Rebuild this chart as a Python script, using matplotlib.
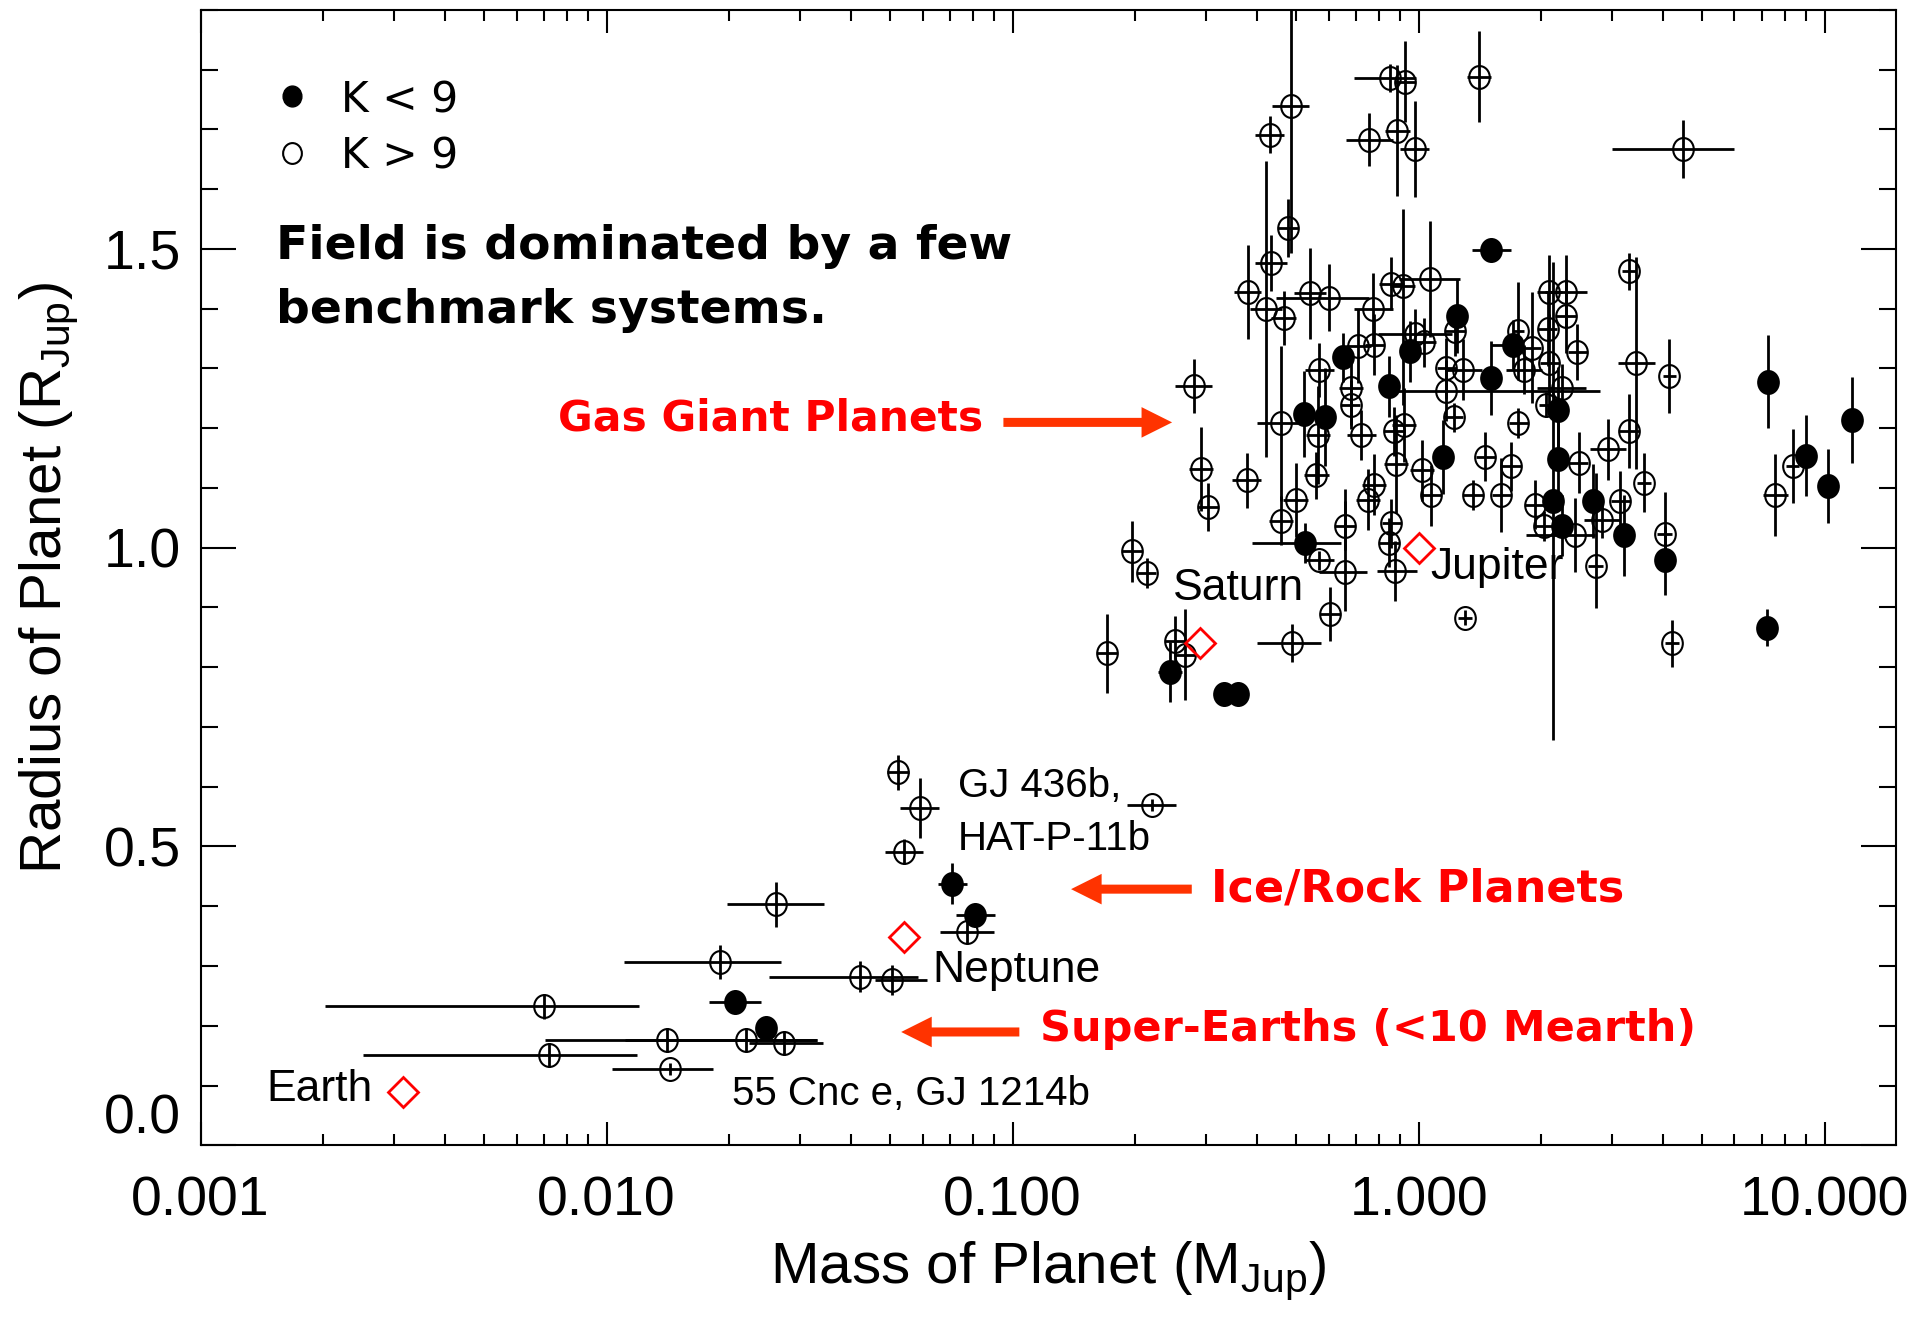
import numpy as np
import matplotlib
matplotlib.use('Agg')
import matplotlib.pyplot as plt
from matplotlib.path import Path
from matplotlib.transforms import Affine2D
from matplotlib.ticker import FixedLocator, LogLocator, MultipleLocator, NullFormatter

plt.rcParams['font.family'] = ['Liberation Sans', 'DejaVu Sans']
plt.rcParams['mathtext.fontset'] = 'custom'
plt.rcParams['mathtext.rm'] = 'Liberation Sans'
plt.rcParams['mathtext.it'] = 'Liberation Sans:italic'

# ---------------- data ----------------
# K < 9 host stars (filled symbols): mass [M_Jup], radius [R_Jup]
bright_mass = [1.51, 1.24, 1.71, 0.653, 0.953, 1.51, 0.845, 7.26, 0.523, 0.589,
               0.526, 1.15, 0.244, 0.332, 0.359, 2.20, 2.21, 2.14, 2.26, 2.69,
               3.21, 4.04, 7.21, 11.7, 9.02, 10.2,
               0.0711, 0.0809, 0.0207, 0.0247]
bright_radius = [1.498, 1.387, 1.340, 1.319, 1.329, 1.284, 1.270, 1.278, 1.224, 1.218,
                 1.008, 1.152, 0.792, 0.755, 0.755, 1.230, 1.148, 1.078, 1.037, 1.078,
                 1.021, 0.979, 0.866, 1.214, 1.154, 1.103,
                 0.438, 0.386, 0.240, 0.197]
# mass errors in dex (lower, upper); radius errors in R_Jup (lower, upper)
bright_mlo = [0.048, 0.024, 0.055, 0.024, 0.024, 0.015, 0.024, 0.015, 0.024, 0.024,
              0.131, 0.024, 0.030, 0.015, 0.015, 0.024, 0.024, 0.024, 0.024, 0.024,
              0.015, 0.015, 0.015, 0.015, 0.015, 0.015,
              0.035, 0.048, 0.064, 0.020]
bright_mhi = [0.048, 0.024, 0.015, 0.024, 0.024, 0.015, 0.024, 0.015, 0.024, 0.024,
              0.087, 0.024, 0.030, 0.015, 0.020, 0.024, 0.024, 0.024, 0.024, 0.024,
              0.015, 0.015, 0.015, 0.015, 0.015, 0.015,
              0.035, 0.048, 0.064, 0.020]
bright_rlo = [0.010, 0.062, 0.041, 0.041, 0.051, 0.062, 0.051, 0.078, 0.072, 0.082,
              0.033, 0.062, 0.051, 0.006, 0.006, 0.072, 0.072, 0.400, 0.051, 0.062,
              0.068, 0.058, 0.031, 0.072, 0.068, 0.062,
              0.034, 0.008, 0.008, 0.008]
bright_rhi = bright_rlo

# K > 9 host stars (open symbols)
faint_mass = [0.484, 0.430, 0.851, 0.927, 0.757, 0.887, 0.979, 1.41, 4.49, 0.477,
              0.433, 0.379, 0.421, 0.465, 0.541, 0.601, 0.773, 0.857, 0.913, 1.064,
              3.30, 3.44, 2.10, 2.31, 2.31, 1.23, 2.08, 1.76, 2.46, 1.90,
              0.711, 0.569, 1.29, 1.82, 2.10, 0.681, 0.279, 2.25, 4.15, 1.17,
              0.458, 0.291, 0.303, 0.377, 0.458, 0.498, 0.560, 0.569, 0.658, 0.658,
              0.875, 0.845, 0.857, 0.881, 1.072, 0.778, 0.751, 0.920, 0.722, 0.565,
              1.02, 0.197, 0.214, 0.171, 0.251, 0.266, 0.488, 0.605, 1.30, 1.46,
              1.69, 1.36, 1.60, 1.76, 2.06, 1.22, 1.93, 2.04, 2.43, 2.48,
              2.83, 2.73, 2.93, 3.14, 3.30, 3.59, 4.04, 4.21, 7.57, 8.34,
              0.778, 1.03, 1.17, 0.98, 0.68, 0.869,
              0.0522, 0.0590, 0.0539, 0.0771, 0.0261, 0.0190, 0.0420, 0.0505, 0.00702, 0.01406,
              0.0220, 0.0274, 0.00723, 0.01435, 0.220]
faint_radius = [1.739, 1.691, 1.786, 1.780, 1.683, 1.698, 1.667, 1.788, 1.667, 1.535,
                1.477, 1.428, 1.399, 1.385, 1.426, 1.418, 1.399, 1.442, 1.438, 1.449,
                1.463, 1.309, 1.428, 1.428, 1.387, 1.362, 1.366, 1.362, 1.327, 1.335,
                1.337, 1.298, 1.298, 1.298, 1.309, 1.267, 1.270, 1.267, 1.288, 1.263,
                1.208, 1.132, 1.068, 1.113, 1.045, 1.080, 1.121, 0.979, 0.959, 1.037,
                0.961, 1.008, 1.041, 1.140, 1.088, 1.105, 1.080, 1.206, 1.189, 1.189,
                1.130, 0.994, 0.957, 0.823, 0.844, 0.821, 0.840, 0.889, 0.883, 1.152,
                1.136, 1.088, 1.088, 1.208, 1.239, 1.218, 1.072, 1.037, 1.021, 1.142,
                1.047, 0.969, 1.165, 1.078, 1.195, 1.109, 1.023, 0.840, 1.088, 1.136,
                1.340, 1.344, 1.300, 1.358, 1.239, 1.195,
                0.624, 0.565, 0.491, 0.357, 0.403, 0.307, 0.282, 0.276, 0.233, 0.176,
                0.177, 0.171, 0.151, 0.127, 0.570]
faint_mlo = [0.045, 0.036, 0.088, 0.024, 0.058, 0.030, 0.036, 0.030, 0.175, 0.024,
             0.039, 0.033, 0.039, 0.030, 0.039, 0.131, 0.048, 0.030, 0.030, 0.076,
             0.018, 0.045, 0.030, 0.052, 0.024, 0.024, 0.024, 0.015, 0.024, 0.024,
             0.030, 0.036, 0.045, 0.045, 0.024, 0.030, 0.045, 0.061, 0.015, 0.124,
             0.059, 0.030, 0.024, 0.036, 0.030, 0.030, 0.030, 0.036, 0.064, 0.024,
             0.045, 0.024, 0.024, 0.030, 0.024, 0.030, 0.030, 0.030, 0.036, 0.030,
             0.030, 0.024, 0.024, 0.024, 0.024, 0.024, 0.086, 0.024, 0.018, 0.024,
             0.024, 0.024, 0.024, 0.024, 0.018, 0.024, 0.024, 0.024, 0.121, 0.024,
             0.045, 0.018, 0.045, 0.024, 0.024, 0.018, 0.018, 0.018, 0.030, 0.015,
             0.024, 0.030, 0.024, 0.091, 0.024, 0.024,
             0.028, 0.049, 0.047, 0.066, 0.119, 0.236, 0.223, 0.042, 0.541, 0.300,
             0.297, 0.088, 0.458, 0.143, 0.060]
faint_mhi = [0.045, 0.036, 0.064, 0.024, 0.058, 0.030, 0.036, 0.030, 0.125, 0.024,
             0.039, 0.033, 0.039, 0.030, 0.039, 0.098, 0.048, 0.030, 0.030, 0.076,
             0.018, 0.045, 0.030, 0.052, 0.024, 0.024, 0.024, 0.015, 0.024, 0.024,
             0.030, 0.036, 0.045, 0.045, 0.024, 0.030, 0.045, 0.061, 0.015, 0.379,
             0.043, 0.030, 0.024, 0.036, 0.030, 0.030, 0.030, 0.036, 0.055, 0.024,
             0.055, 0.024, 0.024, 0.030, 0.024, 0.030, 0.030, 0.030, 0.036, 0.030,
             0.030, 0.024, 0.024, 0.024, 0.024, 0.024, 0.072, 0.024, 0.018, 0.024,
             0.024, 0.024, 0.024, 0.024, 0.018, 0.024, 0.024, 0.024, 0.050, 0.024,
             0.045, 0.018, 0.045, 0.024, 0.024, 0.018, 0.018, 0.018, 0.030, 0.015,
             0.024, 0.030, 0.024, 0.091, 0.024, 0.024,
             0.028, 0.049, 0.047, 0.066, 0.119, 0.152, 0.144, 0.085, 0.233, 0.370,
             0.177, 0.096, 0.216, 0.106, 0.060]
faint_rlo = [0.245, 0.031, 0.024, 0.068, 0.045, 0.109, 0.080, 0.076, 0.049, 0.049,
             0.047, 0.078, 0.248, 0.045, 0.076, 0.056, 0.060, 0.045, 0.200, 0.097,
             0.031, 0.178, 0.062, 0.062, 0.062, 0.041, 0.062, 0.082, 0.047, 0.093,
             0.062, 0.045, 0.051, 0.041, 0.082, 0.062, 0.045, 0.041, 0.062, 0.051,
             0.130, 0.070, 0.040, 0.046, 0.041, 0.062, 0.039, 0.016, 0.065, 0.041,
             0.050, 0.041, 0.041, 0.082, 0.051, 0.051, 0.051, 0.062, 0.042, 0.082,
             0.051, 0.051, 0.025, 0.066, 0.041, 0.076, 0.032, 0.045, 0.012, 0.041,
             0.041, 0.025, 0.062, 0.025, 0.021, 0.025, 0.041, 0.025, 0.062, 0.051,
             0.031, 0.070, 0.051, 0.051, 0.062, 0.049, 0.050, 0.039, 0.068, 0.062,
             0.051, 0.041, 0.051, 0.041, 0.041, 0.041,
             0.029, 0.050, 0.021, 0.018, 0.038, 0.028, 0.026, 0.025, 0.021, 0.020,
             0.020, 0.020, 0.020, 0.010, 0.010]
faint_rhi = [0.200, 0.031, 0.024, 0.068, 0.045, 0.109, 0.080, 0.076, 0.049, 0.049,
             0.047, 0.078, 0.248, 0.045, 0.076, 0.056, 0.060, 0.045, 0.128, 0.097,
             0.031, 0.178, 0.062, 0.062, 0.062, 0.041, 0.062, 0.082, 0.047, 0.093,
             0.062, 0.045, 0.051, 0.041, 0.082, 0.062, 0.045, 0.041, 0.062, 0.051,
             0.130, 0.070, 0.040, 0.046, 0.041, 0.062, 0.039, 0.016, 0.140, 0.041,
             0.050, 0.041, 0.041, 0.082, 0.051, 0.051, 0.051, 0.062, 0.042, 0.082,
             0.051, 0.051, 0.025, 0.066, 0.041, 0.076, 0.032, 0.045, 0.012, 0.041,
             0.041, 0.025, 0.062, 0.025, 0.021, 0.025, 0.041, 0.025, 0.062, 0.051,
             0.031, 0.156, 0.051, 0.051, 0.062, 0.049, 0.070, 0.039, 0.068, 0.062,
             0.051, 0.041, 0.051, 0.041, 0.041, 0.041,
             0.029, 0.050, 0.021, 0.018, 0.038, 0.028, 0.026, 0.025, 0.021, 0.020,
             0.020, 0.020, 0.020, 0.010, 0.010]

# Solar-system planets
ss_names = ['Earth', 'Neptune', 'Saturn', 'Jupiter']
ss_mass = [0.00315, 0.054, 0.29, 1.0]
ss_radius = [0.090, 0.348, 0.84, 1.0]

x_ticks = [0.001, 0.01, 0.1, 1.0, 10.0]
x_ticklabels = ['0.001', '0.010', '0.100', '1.000', '10.000']
y_ticks = [0.0, 0.5, 1.0, 1.5]
y_ticklabels = ['0.0', '0.5', '1.0', '1.5']

# ---------------- figure ----------------
fig = plt.figure(figsize=(19.31, 13.19), dpi=100)
ax = fig.add_axes([0.1039, 0.1317, 0.878, 0.8608])
ax.set_xscale('log')
ax.set_xlim(0.001, 15)
ax.set_ylim(0, 1.9)

ell = Path.unit_circle().transformed(Affine2D().scale(0.9, 1.0))


def draw_group(mass, rad, mlo, mhi, rlo, rhi, filled):
    m = np.asarray(mass)
    r = np.asarray(rad)
    xlo = m * (1 - 10 ** (-np.asarray(mlo)))
    xhi = m * (10 ** np.asarray(mhi) - 1)
    ax.errorbar(m, r, xerr=[xlo, xhi], yerr=[np.asarray(rlo), np.asarray(rhi)],
                fmt='none', ecolor='black', elinewidth=2.0, capsize=0, zorder=2)
    ax.plot(m, r, linestyle='none', marker=ell, markersize=16.5,
            markerfacecolor='black' if filled else 'none',
            markeredgecolor='black', markeredgewidth=1.5, zorder=3)


draw_group(faint_mass, faint_radius, faint_mlo, faint_mhi, faint_rlo, faint_rhi, False)
draw_group(bright_mass, bright_radius, bright_mlo, bright_mhi, bright_rlo, bright_rhi, True)

ax.plot(ss_mass, ss_radius, linestyle='none', marker='D', markersize=15.5,
        markerfacecolor='none', markeredgecolor='#ff0000', markeredgewidth=2, zorder=4)

# ticks
ax.xaxis.set_major_locator(FixedLocator(x_ticks))
ax.set_xticklabels(x_ticklabels)
ax.xaxis.set_minor_locator(LogLocator(base=10, subs=np.arange(2, 10), numticks=50))
ax.xaxis.set_minor_formatter(NullFormatter())
ax.set_yticks(y_ticks)
ax.set_yticklabels(y_ticklabels)
ax.yaxis.set_minor_locator(MultipleLocator(0.1))
ax.tick_params(which='both', direction='in', top=True, right=True, width=1.5,
               labelsize=40, color='black')
ax.tick_params(axis='x', which='major', length=16.5, pad=22)
ax.tick_params(axis='x', which='minor', length=8)
ax.tick_params(axis='y', which='major', length=25, pad=14)
ax.tick_params(axis='y', which='minor', length=12)
for s in ax.spines.values():
    s.set_linewidth(1.5)
ax.get_yticklabels()[0].set_verticalalignment('bottom')

ax.set_xlabel(r'Mass of Planet (M$_{\rm Jup}$)', fontsize=42)
ax.set_ylabel(r'Radius of Planet (R$_{\rm Jup}$)', fontsize=42)
ax.xaxis.set_label_coords(0.5, -0.083)
ax.yaxis.set_label_coords(-0.071, 0.5)

T = ax.transAxes
# legend
ax.plot([0.0537], [0.924], transform=T, marker=ell, markersize=15, color='black',
        linestyle='none', clip_on=False)
ax.plot([0.0537], [0.874], transform=T, marker=ell, markersize=15, markerfacecolor='none',
        markeredgecolor='black', markeredgewidth=1.5, linestyle='none', clip_on=False)
ax.text(0.0828, 0.920, 'K < 9', transform=T, fontsize=30.5, family='DejaVu Sans',
        ha='left', va='center')
ax.text(0.0828, 0.871, 'K > 9', transform=T, fontsize=30.5, family='DejaVu Sans',
        ha='left', va='center')

ax.text(0.0443, 0.792, 'Field is dominated by a few', transform=T, fontsize=34,
        family='DejaVu Sans', weight='bold', ha='left', va='center')
ax.text(0.0443, 0.735, 'benchmark systems.', transform=T, fontsize=34,
        family='DejaVu Sans', weight='bold', ha='left', va='center')

red = '#ff0000'
arrow_red = '#ff3300'
ax.text(0.2106, 0.640, 'Gas Giant Planets', transform=T, fontsize=30.5,
        family='DejaVu Sans', weight='bold', color=red, ha='left', va='center')
ax.text(0.5962, 0.2256, 'Ice/Rock Planets', transform=T, fontsize=32,
        family='DejaVu Sans', weight='bold', color=red, ha='left', va='center')
ax.text(0.4953, 0.102, 'Super-Earths (<10 Mearth)', transform=T, fontsize=31,
        family='DejaVu Sans', weight='bold', color=red, ha='left', va='center')

astyle = 'simple,head_length=22,head_width=22,tail_width=6.5'
for tail, tip in [((0.4735, 0.6367), (0.573, 0.6367)),
                  ((0.5846, 0.2256), (0.5134, 0.2256)),
                  ((0.4829, 0.0998), (0.4132, 0.0998))]:
    ax.annotate('', xy=tip, xytext=tail, xycoords=T, textcoords=T,
                arrowprops=dict(arrowstyle=astyle, color=arrow_red, lw=0,
                                shrinkA=0, shrinkB=0, mutation_scale=1))

# planet labels
ax.text(0.5737, 0.4902, 'Saturn', transform=T, fontsize=32, ha='left', va='center')
ax.text(0.7255, 0.5087, 'Jupiter', transform=T, fontsize=32, ha='left', va='center')
ax.text(0.4314, 0.154, 'Neptune', transform=T, fontsize=32, ha='left', va='center')
ax.text(0.0385, 0.0488, 'Earth', transform=T, fontsize=32, ha='left', va='center')
ax.text(0.4466, 0.3167, 'GJ 436b,', transform=T, fontsize=29, ha='left', va='center')
ax.text(0.4466, 0.270, 'HAT-P-11b', transform=T, fontsize=29, ha='left', va='center')
ax.text(0.3137, 0.0456, '55 Cnc e, GJ 1214b', transform=T, fontsize=29, ha='left', va='center')

fig.savefig('out.png', dpi=100)
